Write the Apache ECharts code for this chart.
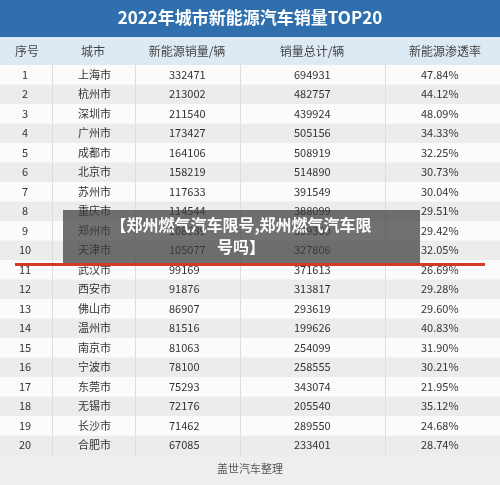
<!DOCTYPE html><html><head><meta charset="utf-8"><script src="https://cdn.jsdelivr.net/npm/echarts@6/dist/echarts.min.js"></script>
<style>body{margin:0}#c{width:500px;height:485px}</style></head><body><div id="c"></div><script>
const ranks=[1,2,3,4,5,6,7,8,9,10,11,12,13,14,15,16,17,18,19,20];
const cities=['上海市','杭州市','深圳市','广州市','成都市','北京市','苏州市','重庆市','郑州市','天津市','武汉市','西安市','佛山市','温州市','南京市','宁波市','东莞市','无锡市','长沙市','合肥市'];
const nev=[332471,213002,211540,173427,164106,158219,117633,114544,108639,105077,99169,91876,86907,81516,81063,78100,75293,72176,71462,67085];
const total=[694931,482757,439924,505156,508919,514890,391549,388099,369300,327806,371613,313817,293619,199626,254099,258555,343074,205540,289550,233401];
const rate=['47.84%','44.12%','48.09%','34.33%','32.25%','30.73%','30.04%','29.51%','29.42%','32.05%','26.69%','29.28%','29.60%','40.83%','31.90%','30.21%','21.95%','35.12%','24.68%','28.74%'];
const headers=['序号','城市','新能源销量/辆','销量总计/辆','新能源渗透率'];
const colX=[27,93,187,312,445];
const textX=[25,78,169,294,421];
const F='"Noto Sans CJK SC","Noto Sans",sans-serif';
const ch=echarts.init(document.getElementById('c'));
ch.setOption({
 animation:false,
 grid:{left:0,right:0,top:65,bottom:30},
 xAxis:{type:'value',min:0,max:500,show:false},
 yAxis:{type:'category',inverse:true,data:ranks.map(String),show:false},
 graphic:[
  {type:'rect',shape:{x:0,y:0,width:500,height:37},style:{fill:'#2f6fad'}},
  {type:'text',x:250,y:18,style:{text:'2022年城市新能源汽车销量TOP20',fill:'#fff',font:'bold 17px '+F,align:'center',verticalAlign:'middle'}},
  {type:'rect',shape:{x:0,y:37,width:500,height:28},style:{fill:'#dde9f3'}},
  ...headers.map((h,i)=>({type:'text',x:colX[i],y:51,style:{text:h,fill:'#444',font:'12px '+F,align:'center',verticalAlign:'middle'}})),
  {type:'rect',shape:{x:0,y:455,width:500,height:30},style:{fill:'#eeeeee'}},
  {type:'text',x:250,y:469,style:{text:'盖世汽车整理',fill:'#555',font:'11px '+F,align:'center',verticalAlign:'middle'}},
  {type:'rect',shape:{x:15,y:263,width:470,height:3},style:{fill:'#d23a2a'},z:50},
  {type:'rect',shape:{x:63,y:210,width:357,height:53},style:{fill:'rgba(60,60,60,0.72)'},z:60},
  {type:'text',x:241,y:236,style:{text:'【郑州燃气汽车限号,郑州燃气汽车限\n号吗】',fill:'#fff',font:'bold 16px '+F,align:'center',verticalAlign:'middle',lineHeight:22},z:61}
 ],
 series:[{type:'custom',data:ranks.map((r,i)=>[0,i]),
  renderItem:(p,api)=>{
   const i=api.value(1);const c=api.coord([0,i]);const h=api.size([0,1])[1];
   const vals=[ranks[i],cities[i],nev[i],total[i],rate[i]];
   const kids=[{type:'rect',shape:{x:0,y:c[1]-h/2,width:500,height:h},style:{fill:i%2?'#ececec':'#fbfbfb'}}];
   [52,135,240,385].forEach(x=>kids.push({type:'rect',shape:{x:x,y:c[1]-h/2,width:1,height:h},style:{fill:'#dddddd'}}));
   vals.forEach((v,k)=>kids.push({type:'text',x:textX[k],y:c[1],style:{text:String(v),fill:'#333',font:'11px '+F,align:k===0?'center':'left',verticalAlign:'middle'}}));
   return {type:'group',children:kids};
  }}]
});
</script></body></html>
